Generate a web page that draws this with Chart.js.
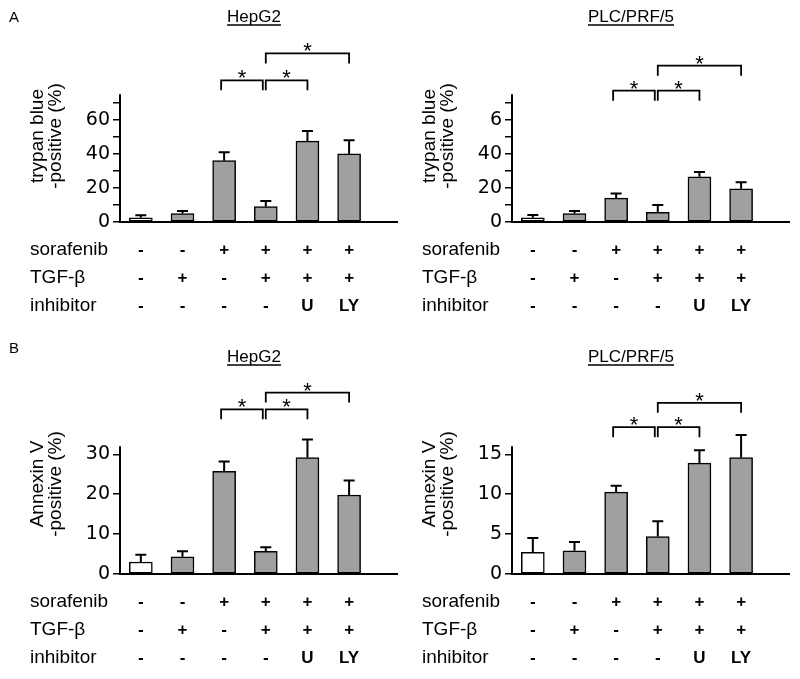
<!DOCTYPE html>
<html>
<head>
<meta charset="utf-8">
<script src="https://cdn.jsdelivr.net/npm/chart.js@4"></script>
<style>
  body { margin: 0; background: #fff; }
  canvas { position: absolute; }
</style>
</head>
<body>
<canvas id="hepTrypanChart" width="400" height="340" style="left:0;top:0"></canvas>
<canvas id="plcTrypanChart" width="400" height="340" style="left:392px;top:0"></canvas>
<canvas id="hepAnnexinChart" width="400" height="339" style="left:0;top:340px"></canvas>
<canvas id="plcAnnexinChart" width="400" height="339" style="left:392px;top:340px"></canvas>
<script>
// treatment table under the bars
var rowNames = ['sorafenib', 'TGF-β', 'inhibitor'];
var sorafenib = ['-', '-', '+', '+', '+', '+'];
var tgfBeta = ['-', '+', '-', '+', '+', '+'];
var inhibitor = ['-', '-', '-', '-', 'U', 'LY'];

// A: trypan blue positive (%)
var hepTrypan = [2.5, 5, 36, 9, 47.5, 40];
var hepTrypanErr = [1.5, 1.5, 5, 3.3, 6, 8];
var plcTrypan = [2.5, 5, 14, 5.7, 26.5, 19.5];
var plcTrypanErr = [1.6, 1.5, 2.7, 4.3, 2.8, 3.8];

// B: Annexin V positive (%)
var hepAnnexin = [3, 4.3, 25.7, 5.7, 29.2, 19.8];
var hepAnnexinErr = [1.8, 1.4, 2.5, 1.0, 4.5, 3.6];
var plcAnnexin = [2.7, 2.9, 10.25, 4.7, 13.9, 14.6];
var plcAnnexinErr = [1.8, 1.1, 0.8, 1.9, 1.6, 2.8];

// y ticks
var trypanTicks = [0, 10, 20, 30, 40, 50, 60, 70];
var hepTrypanTickLabels = ['0', '', '20', '', '40', '', '60', ''];
var plcTrypanTickLabels = ['0', '', '20', '', '40', '', '6', ''];
var hepAnnexinTicks = [0, 10, 20, 30];
var hepAnnexinTickLabels = ['0', '10', '20', '30'];
var plcAnnexinTicks = [0, 5, 10, 15];
var plcAnnexinTickLabels = ['0', '5', '10', '15'];

// significance brackets (bar index pairs) and their heights in data units
var sigPairs = [[2, 3], [3, 4], [3, 5]];
var hepTrypanSig = [83.2, 83.2, 99];
var plcTrypanSig = [77.1, 77.1, 91.8];
var hepAnnexinSig = [41.25, 41.25, 45.45];
var plcAnnexinSig = [18.4, 18.4, 21.45];

Chart.defaults.font.family = '"Liberation Sans", Arial, sans-serif';
Chart.defaults.color = '#000';

var panelDecor = {
  id: 'panelDecor',
  afterDatasetsDraw: function(chart, args, opts) {
    var ctx = chart.ctx, xs = chart.scales.x, ys = chart.scales.y, area = chart.chartArea;
    ctx.save();
    ctx.strokeStyle = '#000';
    ctx.fillStyle = '#000';

    // y axis line, only up to the last value
    ctx.lineWidth = 2;
    ctx.beginPath();
    ctx.moveTo(area.left, ys.getPixelForValue(0) + 1);
    ctx.lineTo(area.left, ys.getPixelForValue(opts.axisTop));
    ctx.stroke();

    // error bars (upper only)
    opts.values.forEach(function(v, i) {
      var px = xs.getPixelForValue(i);
      var top = ys.getPixelForValue(v + opts.errors[i]);
      ctx.beginPath();
      ctx.moveTo(px, ys.getPixelForValue(v));
      ctx.lineTo(px, top);
      ctx.moveTo(px - 5.5, top);
      ctx.lineTo(px + 5.5, top);
      ctx.stroke();
    });

    // brackets with stars
    var shifts = [-3, 0, 0];
    ctx.lineWidth = 1.8;
    ctx.font = '22px "Liberation Sans"';
    ctx.textAlign = 'center';
    ctx.textBaseline = 'alphabetic';
    sigPairs.forEach(function(p, k) {
      var x1 = xs.getPixelForValue(p[0]) + shifts[k];
      var x2 = xs.getPixelForValue(p[1]) + shifts[k];
      var y = ys.getPixelForValue(opts.sig[k]);
      ctx.beginPath();
      ctx.moveTo(x1, y + 10);
      ctx.lineTo(x1, y);
      ctx.lineTo(x2, y);
      ctx.lineTo(x2, y + 10);
      ctx.stroke();
      ctx.fillText('*', (x1 + x2) / 2, y + 5);
    });

    // row labels of the treatment table
    ctx.font = '19px "Liberation Sans"';
    ctx.textAlign = 'left';
    ctx.textBaseline = 'middle';
    rowNames.forEach(function(name, k) {
      ctx.fillText(name, 30, area.bottom + 28 + 28 * k);
    });

    // underlined panel title
    ctx.font = '17px "Liberation Sans"';
    ctx.textAlign = 'center';
    ctx.fillText(opts.title, opts.titleX, 17);
    var w = ctx.measureText(opts.title).width;
    ctx.lineWidth = 1.5;
    ctx.beginPath();
    ctx.moveTo(opts.titleX - w / 2, 25);
    ctx.lineTo(opts.titleX + w / 2, 25);
    ctx.stroke();

    if (opts.letter) {
      ctx.font = '15px "Liberation Sans"';
      ctx.textAlign = 'left';
      ctx.fillText(opts.letter, 9, opts.letterY);
    }
    ctx.restore();
  }
};

function makeChart(id, values, errors, tickValues, tickLabels, sig, yTitle, box) {
  return new Chart(document.getElementById(id), {
    type: 'bar',
    data: {
      datasets: [{
        data: values.map(function(v, i) { return { x: i, y: v }; }),
        backgroundColor: values.map(function(v, i) { return i === 0 ? '#ffffff' : '#a0a0a0'; }),
        borderColor: '#000',
        borderWidth: 1.5,
        borderSkipped: false,
        barThickness: 23
      }]
    },
    options: {
      responsive: false,
      animation: false,
      layout: { padding: { left: 0, right: 3, top: box.top, bottom: 0 } },
      plugins: {
        legend: { display: false },
        tooltip: { enabled: false },
        panelDecor: {
          values: values, errors: errors, sig: sig, axisTop: box.axisTop,
          title: box.title, titleX: box.titleX, letter: box.letter, letterY: box.letterY
        }
      },
      scales: {
        x: {
          type: 'linear',
          min: -0.5,
          max: 6.15,
          offset: false,
          grid: { display: false, drawTicks: false },
          border: { display: true, color: '#000', width: 2 },
          afterBuildTicks: function(scale) {
            scale.ticks = sorafenib.map(function(s, i) { return { value: i }; });
          },
          afterFit: function(scale) { scale.height = box.xHeight; },
          ticks: {
            autoSkip: false,
            maxRotation: 0,
            padding: 14,
            font: { size: 17, weight: 'bold', lineHeight: '28px' },
            callback: function(value) {
              return [sorafenib[value], tgfBeta[value], inhibitor[value]];
            }
          }
        },
        y: {
          min: 0,
          max: box.yMax,
          border: { display: false },
          grid: { drawOnChartArea: false, drawTicks: true, tickLength: 7, color: '#000', lineWidth: 1.5 },
          afterBuildTicks: function(scale) {
            scale.ticks = tickValues.map(function(v) { return { value: v }; });
          },
          afterFit: function(scale) { scale.width = 120; },
          ticks: {
            autoSkip: false,
            padding: 3,
            font: { family: '"DejaVu Sans"', size: 19 },
            callback: function(value, index) { return tickLabels[index]; }
          },
          title: {
            display: true,
            text: yTitle,
            font: { size: 19, lineHeight: '18px' },
            padding: { top: 28.5, bottom: 0 }
          }
        }
      }
    },
    plugins: [panelDecor]
  });
}

makeChart('hepTrypanChart', hepTrypan, hepTrypanErr, trypanTicks, hepTrypanTickLabels, hepTrypanSig,
  ['trypan blue', '-positive (%)'],
  { top: 50, xHeight: 118, yMax: 101, axisTop: 75, title: 'HepG2', titleX: 254, letter: 'A', letterY: 18 });
makeChart('plcTrypanChart', plcTrypan, plcTrypanErr, trypanTicks, plcTrypanTickLabels, plcTrypanSig,
  ['trypan blue', '-positive (%)'],
  { top: 50, xHeight: 118, yMax: 101, axisTop: 75, title: 'PLC/PRF/5', titleX: 239 });
makeChart('hepAnnexinChart', hepAnnexin, hepAnnexinErr, hepAnnexinTicks, hepAnnexinTickLabels, hepAnnexinSig,
  ['Annexin V', '-positive (%)'],
  { top: 54, xHeight: 105, yMax: 45.1, axisTop: 32, title: 'HepG2', titleX: 254, letter: 'B', letterY: 8.5 });
makeChart('plcAnnexinChart', plcAnnexin, plcAnnexinErr, plcAnnexinTicks, plcAnnexinTickLabels, plcAnnexinSig,
  ['Annexin V', '-positive (%)'],
  { top: 54, xHeight: 105, yMax: 22.55, axisTop: 16, title: 'PLC/PRF/5', titleX: 239 });
</script>
</body>
</html>
